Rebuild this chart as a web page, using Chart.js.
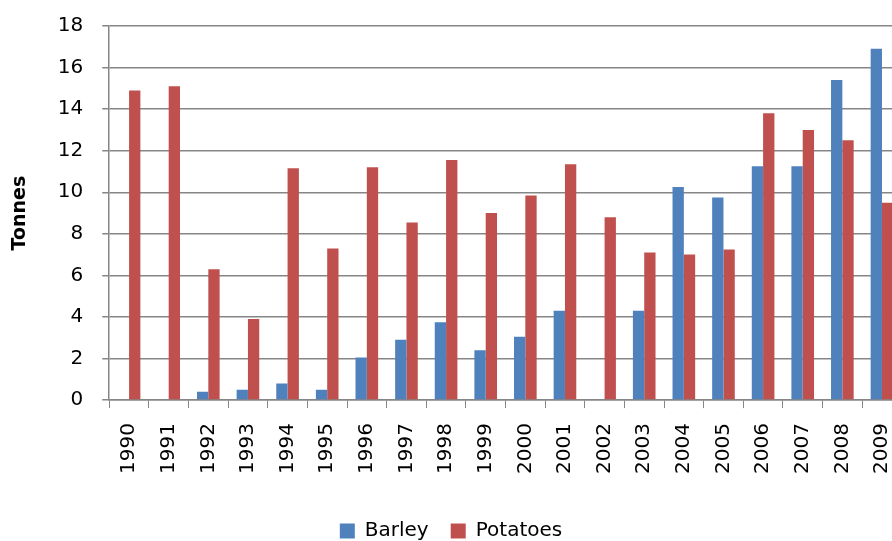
<!DOCTYPE html>
<html>
<head>
<meta charset="utf-8">
<script src="https://cdn.jsdelivr.net/npm/chart.js@4.4.1/dist/chart.umd.min.js"></script>
<style>
  html, body { margin: 0; padding: 0; background: #fff; overflow: hidden; }
  #wrap { position: absolute; left: 0; top: -5px; width: 921px; height: 546px; }
</style>
</head>
<body>
<div id="wrap"><canvas id="cropChart" width="921" height="546"></canvas></div>
<script>
// Crop yields per year (tonnes)
const years = ["1990", "1991", "1992", "1993", "1994", "1995", "1996", "1997", "1998", "1999",
  "2000", "2001", "2002", "2003", "2004", "2005", "2006", "2007", "2008", "2009"]
const barley = [null, null, 0.4, 0.5, 0.8, 0.5, 2.05, 2.9, 3.75, 2.4,
  3.05, 4.3, null, 4.3, 10.25, 9.75, 11.25, 11.25, 15.4, 16.9]
const potatoes = [14.9, 15.1, 6.3, 3.9, 11.15, 7.3, 11.2, 8.55, 11.55, 9.0,
  9.85, 11.35, 8.8, 7.1, 7.0, 7.25, 13.8, 13.0, 12.5, 9.5]

const axisGray = "#868686"
const font = "'DejaVu Sans', sans-serif"

// the plot runs past the right edge of the picture, so keep the legend
// centred on the visible part rather than on the whole canvas
const legendShift = {
  id: "legendShift",
  afterLayout(chart) {
    if (!chart.legend) return
    chart.legend.left -= 9
    chart.legend.right -= 9
  },
}

new Chart(document.getElementById("cropChart"), {
  type: "bar",
  plugins: [legendShift],
  data: {
    labels: years,
    datasets: [
      {
        label: "Barley",
        data: barley,
        backgroundColor: "#4F81BD",
        categoryPercentage: 0.571,
        barPercentage: 1.0,
      },
      {
        label: "Potatoes",
        data: potatoes,
        backgroundColor: "#C0504D",
        categoryPercentage: 0.571,
        barPercentage: 1.0,
      },
    ],
  },
  options: {
    responsive: false,
    animation: false,
    layout: {
      padding: { top: 20, right: 1, bottom: -10, left: 0 },
    },
    plugins: {
      legend: {
        position: "bottom",
        labels: {
          boxWidth: 15,
          boxHeight: 15,
          padding: 22,
          color: "#000",
          font: { family: font, size: 20 },
        },
      },
      tooltip: { enabled: false },
    },
    scales: {
      x: {
        grid: {
          display: true,
          drawOnChartArea: false,
          offset: true,
          color: axisGray,
          tickLength: 8,
        },
        border: { color: axisGray, width: 1.5 },
        ticks: {
          minRotation: 90,
          maxRotation: 90,
          padding: 15,
          color: "#000",
          font: { family: font, size: 20 },
        },
        // extra room between the year labels and the legend
        afterFit: (scale) => {
          scale.height += 10
        },
      },
      y: {
        min: 0,
        max: 18,
        ticks: {
          stepSize: 2,
          padding: 19,
          color: "#000",
          font: { family: font, size: 20 },
        },
        grid: {
          color: axisGray,
          lineWidth: 1.5,
          tickLength: 7,
        },
        border: { color: axisGray, width: 1.5 },
        title: {
          display: true,
          text: "Tonnes",
          color: "#000",
          font: { family: font, size: 19, weight: "bold" },
          padding: { top: 9, bottom: 7 },
        },
      },
    },
  },
})
</script>
</body>
</html>
